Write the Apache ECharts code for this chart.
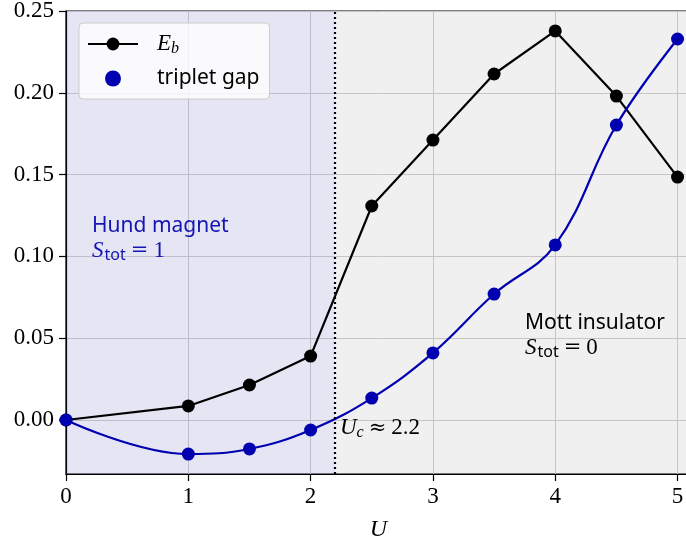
<!DOCTYPE html>
<html>
<head>
<meta charset="utf-8">
<script src="https://cdn.jsdelivr.net/npm/echarts@6/dist/echarts.min.js"></script>
<style>
  html, body { margin: 0; padding: 0; background: #fff; }
  #chart { width: 686px; height: 536px; }
</style>
</head>
<body>
<div id="chart"></div>
<script>
// U values
var uValues = [0, 1, 1.5, 2, 2.5, 3, 3.5, 4, 4.5, 5];
// binding energy E_b
var ebValues = [0, 0.0086, 0.0214, 0.0391, 0.1308, 0.1711, 0.2115, 0.2378, 0.198, 0.1485];
// triplet gap
var gapValues = [0, -0.0208, -0.0177, -0.0061, 0.0134, 0.041, 0.077, 0.107, 0.1803, 0.2329];

var uCritical = 2.2;
var xRange = [0, 5.11];
var yRange = [-0.033, 0.25];

var serif = '"Liberation Serif", "DejaVu Serif", serif';
var sans = '"Noto Sans", "DejaVu Sans", sans-serif';
var blue = '#0000b0';

function pairs(xs, ys) {
  var out = [];
  for (var i = 0; i < xs.length; i++) out.push([xs[i], ys[i]]);
  return out;
}

// rich text styles shared by the annotations (S_tot etc.)
function mathRich(color) {
  return {
    txt: { fontFamily: sans, fontSize: 21, color: color, lineHeight: 25 },
    it: { fontFamily: serif, fontStyle: 'italic', fontSize: 23, color: color, lineHeight: 25 },
    sub: { fontFamily: sans, fontSize: 16, color: color, padding: [10, 0, 0, 1], lineHeight: 25 },
    isub: { fontFamily: serif, fontStyle: 'italic', fontSize: 16, color: color, padding: [10, 0, 0, 0], lineHeight: 25 },
    op: { fontFamily: '"DejaVu Serif", serif', fontSize: 21, color: color, lineHeight: 25, padding: [0, 5, 0, 5] },
    num: { fontFamily: serif, fontSize: 23, color: color, lineHeight: 25 }
  };
}

var chart = echarts.init(document.getElementById('chart'), null, { renderer: 'canvas' });

var option = {
  animation: false,
  backgroundColor: '#fff',
  grid: {
    left: 66, right: -5, top: 11, bottom: 62,
    outerBoundsMode: 'none', containLabel: false,
    show: true, borderColor: '#000', borderWidth: 1.2, backgroundColor: 'transparent'
  },
  legend: {
    left: 79, top: 23,
    orient: 'vertical',
    data: ['Eb', 'triplet gap'],
    itemWidth: 50, itemHeight: 16, itemGap: 9,
    padding: [8, 10, 8, 8],
    backgroundColor: 'rgba(255,255,255,0.8)',
    borderColor: '#cccccc', borderWidth: 1, borderRadius: 4,
    formatter: function (name) {
      return name === 'Eb' ? '{it|E}{isub|b}' : '{txt|' + name + '}';
    },
    textStyle: {
      padding: [0, 0, 0, 14],
      lineHeight: 24,
      rich: mathRich('#000')
    }
  },
  xAxis: {
    type: 'value',
    min: xRange[0], max: xRange[1], interval: 1,
    name: 'U', nameLocation: 'middle', nameGap: 44,
    nameTextStyle: { fontFamily: serif, fontStyle: 'italic', fontSize: 24, color: '#000' },
    axisLine: { show: true, onZero: false, lineStyle: { color: '#000', width: 1.2 } },
    axisTick: { show: true, inside: false, length: 7, lineStyle: { color: '#000', width: 1.2 } },
    axisLabel: { fontFamily: serif, fontSize: 23, color: '#000', margin: 11, showMaxLabel: false },
    splitLine: { show: true, lineStyle: { color: '#d2d2d2', width: 1 } }
  },
  yAxis: {
    type: 'value',
    min: yRange[0], max: yRange[1], splitNumber: 5,
    axisLine: { show: true, onZero: false, lineStyle: { color: '#000', width: 1.2 } },
    axisTick: { show: true, inside: false, length: 7, lineStyle: { color: '#000', width: 1.2 } },
    axisLabel: {
      fontFamily: serif, fontSize: 23, color: '#000', margin: 12,
      showMinLabel: false,
      formatter: function (v) { return v.toFixed(2); }
    },
    splitLine: { show: true, lineStyle: { color: '#d2d2d2', width: 1 } }
  },
  series: [
    {
      // shaded phases + critical U marker
      name: 'regions', type: 'line', data: [], z: 1, silent: true,
      markArea: {
        silent: true,
        data: [
          [{ xAxis: xRange[0], itemStyle: { color: 'rgba(19,19,146,0.11)' } }, { xAxis: uCritical }],
          [{ xAxis: uCritical, itemStyle: { color: 'rgba(0,0,0,0.06)' } }, { xAxis: xRange[1] }]
        ]
      },
      markLine: {
        silent: true, symbol: ['none', 'none'],
        label: { show: false },
        lineStyle: { color: '#000', type: [2, 3], width: 2.2 },
        data: [{ xAxis: uCritical }]
      },
      markPoint: {
        symbol: 'circle', symbolSize: 0,
        data: [
          {
            coord: [0.213, 0.111],
            label: {
              show: true, position: [0, 0], align: 'left', verticalAlign: 'middle',
              formatter: '{txt|Hund magnet}\n{it|S}{sub|tot}{op|=}{num|1}',
              rich: mathRich('#1414b4')
            }
          },
          {
            coord: [3.753, 0.0517],
            label: {
              show: true, position: [0, 0], align: 'left', verticalAlign: 'middle',
              formatter: '{txt|Mott insulator}\n{it|S}{sub|tot}{op|=}{num|0}',
              rich: mathRich('#000')
            }
          },
          {
            coord: [2.24, -0.005],
            label: {
              show: true, position: [0, 0], align: 'left', verticalAlign: 'middle',
              formatter: '{it|U}{isub|c}{op|≈}{num|2.2}',
              rich: mathRich('#000')
            }
          }
        ]
      }
    },
    {
      name: 'Eb', type: 'line', z: 3,
      data: pairs(uValues, ebValues),
      symbol: 'circle', symbolSize: 13, showSymbol: true,
      itemStyle: { color: '#000' },
      lineStyle: { color: '#000', width: 2.2 }
    },
    {
      name: 'gapCurve', type: 'line', z: 3,
      data: pairs(uValues, gapValues),
      smooth: 0.4, showSymbol: false, symbol: 'none',
      lineStyle: { color: blue, width: 2.2 }
    },
    {
      name: 'triplet gap', type: 'scatter', z: 4,
      data: pairs(uValues, gapValues),
      symbol: 'circle', symbolSize: 13,
      itemStyle: { color: blue, opacity: 1 }
    }
  ]
};

chart.setOption(option);
</script>
</body>
</html>
